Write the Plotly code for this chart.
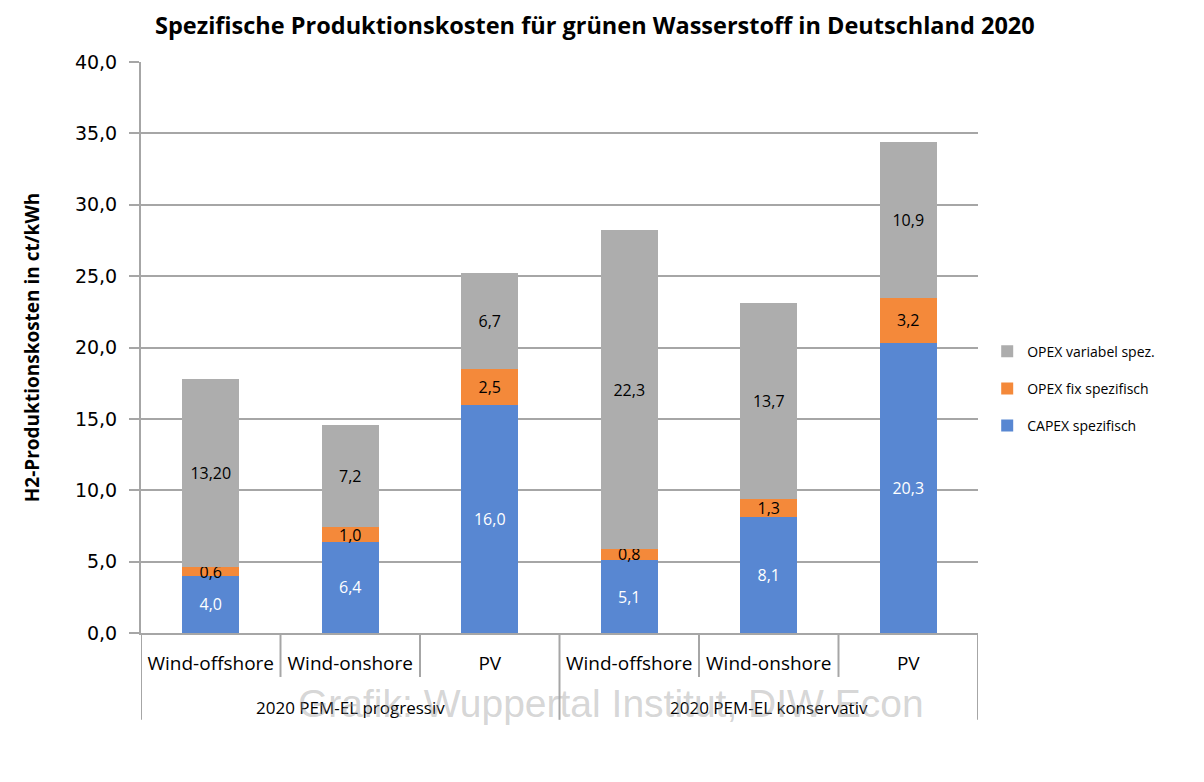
import plotly.graph_objects as go

groups = ["2020 PEM-EL progressiv", "2020 PEM-EL konservativ"]
techs = ["Wind-offshore", "Wind-onshore", "PV", "Wind-offshore", "Wind-onshore", "PV"]

capex = [4.0, 6.4, 16.0, 5.1, 8.1, 20.3]
opex_fix = [0.6, 1.0, 2.5, 0.8, 1.3, 3.2]
opex_var = [13.2, 7.2, 6.7, 22.3, 13.7, 10.9]

capex_lbl = ["4,0", "6,4", "16,0", "5,1", "8,1", "20,3"]
opex_fix_lbl = ["0,6", "1,0", "2,5", "0,8", "1,3", "3,2"]
opex_var_lbl = ["13,20", "7,2", "6,7", "22,3", "13,7", "10,9"]

y_ticks = [0, 5, 10, 15, 20, 25, 30, 35, 40]

xpos = list(range(len(techs)))
per_group = len(techs) // len(groups)
lab_font = "Open Sans, sans-serif"
grid_c = "#A6A6A6"

fig = go.Figure()
for name, vals, lbls, col, tcol, grp, rank in [
    ("CAPEX spezifisch", capex, capex_lbl, "#5887D2", "white", "a", 3),
    ("OPEX fix spezifisch", opex_fix, opex_fix_lbl, "#F4893A", "black", "b", 2),
    ("OPEX variabel spez.", opex_var, opex_var_lbl, "#ADADAD", "black", "c", 1),
]:
    fig.add_trace(go.Bar(x=xpos, y=vals, name=name, marker_color=col, legendgroup=grp,
                         legendrank=rank,
                         text=lbls, textposition="inside", insidetextanchor="middle",
                         textangle=0, constraintext="none",
                         textfont=dict(color=tcol, size=16, family=lab_font)))

fig.update_traces(marker_line_width=0, width=0.41)

fig.update_layout(
    barmode="stack",
    separators=", ",
    width=1188, height=766,
    margin=dict(l=133, r=218, t=54, b=141),
    plot_bgcolor="white", paper_bgcolor="white",
    uniformtext=dict(mode=False),
    title=dict(text="<b>Spezifische Produktionskosten für grünen Wasserstoff in Deutschland 2020</b>",
               x=0.494, xanchor="center", y=0.977, yanchor="middle",
               font=dict(size=23.5, family="Open Sans, sans-serif", color="black")),
    legend=dict(x=1.011, y=0.428, xanchor="left", yanchor="middle",
                traceorder="grouped",
                font=dict(size=14, family=lab_font, color="black"),
                tracegroupgap=16),
    showlegend=True,
)

fig.update_yaxes(range=[0, 40], tickvals=y_ticks, tickformat=".1f",
                 showgrid=True, gridcolor=grid_c, gridwidth=2,
                 showline=True, linecolor=grid_c, linewidth=2,
                 ticks="outside", ticklen=10, tickcolor=grid_c, tickwidth=2,
                 ticklabelstandoff=8,
                 tickfont=dict(size=19, family="DejaVu Sans", color="black"),
                 title=dict(text="<b>H2-Produktionskosten in ct/kWh</b>", standoff=30,
                            font=dict(size=19, family="Open Sans, sans-serif", color="black")),
                 zeroline=False)
fig.update_xaxes(range=[-0.5, len(techs) - 0.5], tickvals=xpos, ticktext=techs,
                 showline=True, linecolor=grid_c, linewidth=2, showgrid=False, zeroline=False,
                 ticks="", ticklabelstandoff=12,
                 tickfont=dict(size=19, family=lab_font, color="black"))

# category boundary lines below the axis
for b in range(len(techs) + 1):
    is_group_edge = b % per_group == 0
    fig.add_shape(type="line", xref="x", yref="paper", x0=b - 0.5, x1=b - 0.5,
                  y0=0, y1=-0.152 if is_group_edge else -0.077,
                  line=dict(color=grid_c, width=2))

# group labels
for gi, g in enumerate(groups):
    fig.add_annotation(text=g, xref="x", yref="paper",
                       x=gi * per_group + (per_group - 1) / 2, y=-0.131,
                       xanchor="center", yanchor="middle", showarrow=False,
                       font=dict(size=17, family=lab_font, color="black"))

fig.add_annotation(text="Grafik: Wuppertal Institut, DIW Econ", xref="paper", yref="paper",
                   x=0.5615, y=-0.1226, xanchor="center", yanchor="middle", showarrow=False,
                   font=dict(size=39, family="Liberation Sans, sans-serif", color="rgba(150,150,150,0.4)"))

fig.write_html("out.html")
